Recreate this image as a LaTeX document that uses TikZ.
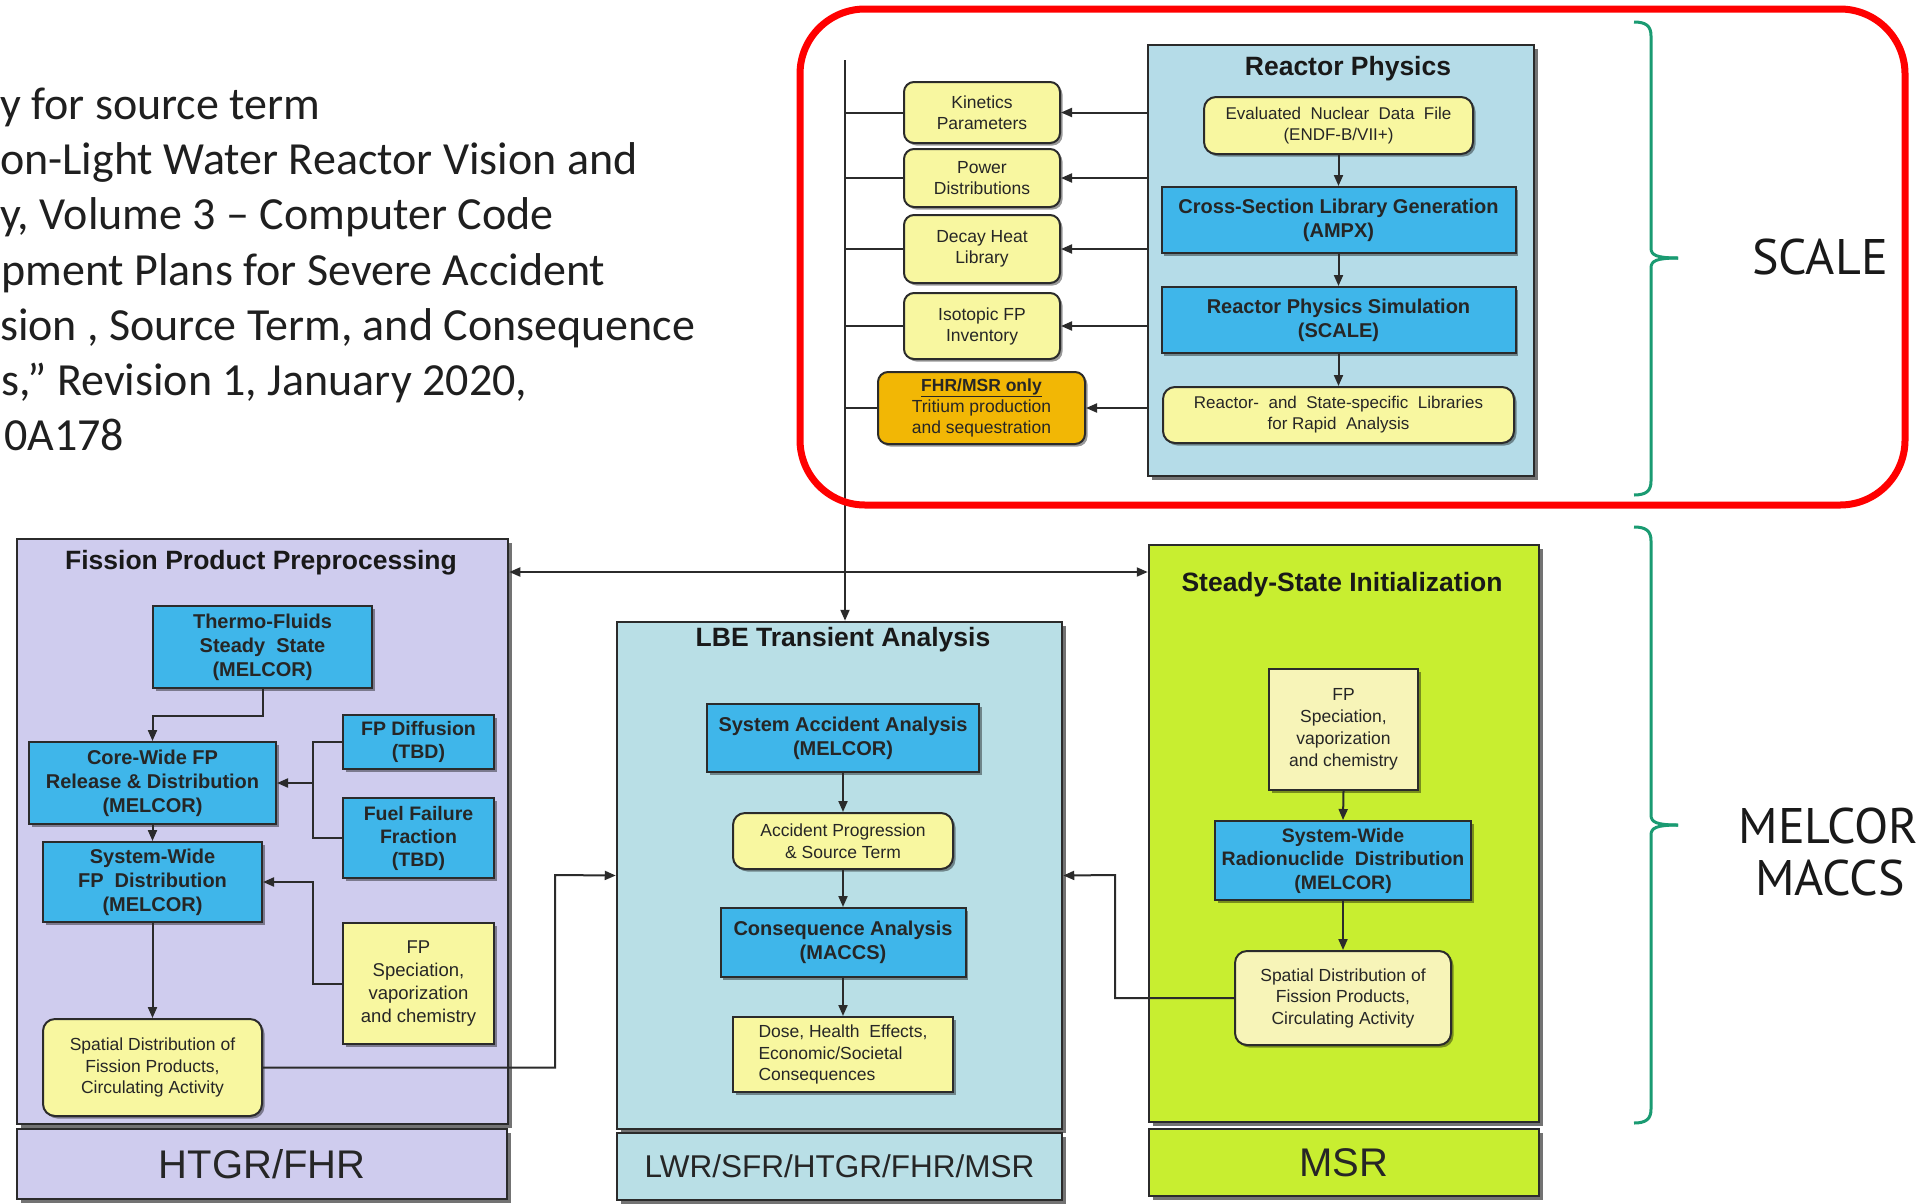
\documentclass[tikz,border=0pt]{standalone}
\usepackage{fontspec}
\setmainfont{Liberation Sans}
\newfontfamily\calibfont{Carlito}
\newfontfamily\ptfont{PT Sans}
\usetikzlibrary{arrows.meta,shadows}
\definecolor{lineC}{HTML}{2B2B2B}
\definecolor{txtC}{HTML}{262626}
\definecolor{blueF}{HTML}{3FB6EA}
\definecolor{yelF}{HTML}{F8F7A0}
\definecolor{yelL}{HTML}{F7F4B8}
\definecolor{orgF}{HTML}{F2B705}
\definecolor{lavF}{HTML}{CFCCEE}
\definecolor{cyanF}{HTML}{B9DFE6}
\definecolor{rpF}{HTML}{B5DCE8}
\definecolor{grnF}{HTML}{C8EE30}
\definecolor{braceC}{HTML}{1A9B72}
\definecolor{redC}{HTML}{FF0000}
\begin{document}
\begin{tikzpicture}[x=1pt,y=-1pt,
  >={Triangle[length=11pt,width=9pt]},
  conn/.style={draw=lineC, line width=2pt},
  cont/.style={draw=lineC, line width=2.5pt, drop shadow={shadow xshift=4pt, shadow yshift=-4pt, opacity=.55, fill=black}},
  ibox/.style={draw=lineC, line width=2pt, align=center, text=txtC, inner sep=2pt, drop shadow={shadow xshift=2.5pt, shadow yshift=-2.5pt, opacity=.4, fill=black}},
  bluebox/.style={ibox, fill=blueF, font=\bfseries\fontsize{20}{24}\selectfont},
  ybox/.style={ibox, fill=yelF, font=\fontsize{18.5}{23}\selectfont},
  yround/.style={ibox, fill=yelF, rounded corners=12pt, font=\fontsize{17.5}{21.5}\selectfont},
  rpsmall/.style={yround, minimum width=156, rounded corners=10pt, font=\fontsize{17.5}{21}\selectfont},
  ctitle/.style={font=\bfseries\fontsize{26.5}{30}\selectfont, text=black!90},
  lbl/.style={cont, font=\fontsize{40}{44}\selectfont, text=black!85},
  sidetxt/.style={font=\ptfont\fontsize{50}{53}\selectfont, text=black!90, anchor=base, inner sep=0pt},
  leadtxt/.style={font=\calibfont\fontsize{46}{55}\selectfont, text=black!88, anchor=base west, inner sep=0pt},
  brc/.style={draw=braceC, line width=3pt}
]
\useasboundingbox (0,0) rectangle (1921,1203);
\fill[white] (0,0) rectangle (1921,1203);
\node[leadtxt] (t1) at (0,119) {y for source term};
\node[leadtxt] (t2) at (0,174) {on-Light Water Reactor Vision and};
\node[leadtxt] (t3) at (0,229) {y, Volume 3 – Computer Code};
\node[leadtxt] (t4) at (1,285) {pment Plans for Severe Accident};
\node[leadtxt] (t5) at (0,340) {sion , Source Term, and Consequence};
\node[leadtxt] (t6) at (1,395) {s,” Revision 1, January 2020,};
\node[leadtxt] (t7) at (4,450) {0A178};

% ---------- Reactor Physics ----------
\node[cont, fill=rpF, minimum width=386, minimum height=431] (rp) at (1341,260.5) {};
\node[ctitle] (rpt) at (1348,69) {Reactor Physics};
\node[yround, font=\fontsize{17}{21}\selectfont, minimum width=269, minimum height=57] (endf) at (1338.5,125.5) {Evaluated~ Nuclear~ Data~ File\\(ENDF-B/VII+)};
\node[bluebox, minimum width=354, minimum height=66] (xs) at (1338.5,220) {Cross-Section Library Generation\\(AMPX)};
\node[bluebox, minimum width=354, minimum height=66] (rps) at (1338.5,320) {Reactor Physics Simulation\\(SCALE)};
\node[yround, font=\fontsize{17}{21}\selectfont, minimum width=351, minimum height=56] (rsl) at (1338.5,415) {Reactor-~ and~ State-specific~ Libraries\\for Rapid~ Analysis};
\draw[conn,->] (endf.south) -- (xs.north);
\draw[conn,->] (xs.south) -- (rps.north);
\draw[conn,->] (rps.south) -- (rsl.north);

\node[rpsmall, minimum height=61] (kin) at (982,112.5) {Kinetics\\Parameters};
\node[rpsmall, minimum height=58] (pow) at (982,178) {Power\\Distributions};
\node[rpsmall, minimum height=68] (dec) at (982,249) {Decay Heat\\Library};
\node[rpsmall, minimum height=66] (iso) at (982,326) {Isotopic FP\\Inventory};
\node[rpsmall, fill=orgF, minimum width=207, minimum height=72] (fhr) at (981.5,408) {\textbf{\underline{FHR/MSR only}}\\Tritium production\\and sequestration};

\coordinate (vtop) at (845,60);
\foreach \n in {kin,pow,dec,iso,fhr}{
  \draw[conn,->] (rp.west |- \n.east) -- (\n.east);
  \draw[conn] (vtop |- \n.west) -- (\n.west);
}

% ---------- containers ----------
\node[cont, fill=lavF, minimum width=491, minimum height=585] (fpp) at (262.5,831.5) {};
\node[lbl, fill=lavF, minimum width=490, minimum height=70] (fppl) at (262,1164) {HTGR/FHR};
\node[cont, fill=cyanF, minimum width=445, minimum height=507] (lbe) at (839.5,875.5) {};
\node[lbl, fill=cyanF, minimum width=445, minimum height=67, font=\fontsize{31.5}{36}\selectfont] (lbel) at (839.5,1166.5) {LWR/SFR/HTGR/FHR/MSR};
\node[cont, fill=grnF, minimum width=390, minimum height=577] (ssi) at (1344,833.5) {};
\node[lbl, fill=grnF, minimum width=390, minimum height=67] (ssil) at (1344,1162.5) {MSR};

\node[ctitle] (fppt) at (261,563) {Fission Product Preprocessing};
\node[ctitle] (lbet) at (843,640) {LBE Transient Analysis};
\node[ctitle] (ssit) at (1342,585) {Steady-State Initialization};

% ---------- FPP inner ----------
\node[bluebox, minimum width=219, minimum height=82] (thermo) at (262.5,647) {Thermo-Fluids\\Steady~ State\\(MELCOR)};
\node[bluebox, minimum width=247, minimum height=82] (core) at (152.5,783) {Core-Wide FP\\Release \& Distribution\\(MELCOR)};
\node[bluebox, minimum width=219, minimum height=80] (sysw) at (152.5,882) {System-Wide\\FP~ Distribution\\(MELCOR)};
\node[bluebox, font=\bfseries\fontsize{19.5}{23}\selectfont, minimum width=151, minimum height=54] (fpd) at (418.5,742) {FP Diffusion\\(TBD)};
\node[bluebox, font=\bfseries\fontsize{19.5}{23}\selectfont, minimum width=151, minimum height=80] (fff) at (418.5,838) {Fuel Failure\\Fraction\\(TBD)};
\node[ybox, minimum width=151, minimum height=121] (fps) at (418.5,983.5) {FP\\Speciation,\\vaporization\\and chemistry};
\node[yround, minimum width=219, minimum height=97] (spd) at (152.5,1067.5) {Spatial Distribution of\\Fission Products,\\Circulating Activity};

\draw[conn,->] (thermo.south) -- ++(0,27) -| (core.north);
\draw[conn,->] (core.south) -- (sysw.north);
\coordinate (j1) at (313,783);
\coordinate (j2) at (313,882);
\draw[conn] (fpd.west) -| (j1);
\draw[conn] (fff.west) -| (j1);
\draw[conn,->] (j1) -- (core.east);
\draw[conn,->] (fps.west) -| (j2) -- (sysw.east);
\draw[conn,->] (sysw.south) -- (spd.north);
\coordinate (j3) at (555,875);
\draw[conn,->] (spd.east) -| (j3) -- (lbe.west);

% ---------- LBE inner ----------
\node[bluebox, minimum width=272, minimum height=68] (sysacc) at (843,738) {System Accident Analysis\\(MELCOR)};
\node[yround, minimum width=220, minimum height=56] (accp) at (843,841) {Accident Progression\\\& Source Term};
\node[bluebox, minimum width=245, minimum height=69] (cons) at (843,942.5) {Consequence Analysis\\(MACCS)};
\node[ybox, align=left, font=\fontsize{17.5}{21.5}\selectfont, minimum width=220, minimum height=75] (dose) at (843,1054.5) {Dose, Health~ Effects,\\Economic/Societal\\Consequences};
\draw[conn,->] (sysacc.south) -- (accp.north);
\draw[conn,->] (accp.south) -- (cons.north);
\draw[conn,->] (cons.south) -- (dose.north);

% ---------- SSI inner ----------
\node[ybox, fill=yelL, font=\fontsize{17.5}{22}\selectfont, minimum width=149, minimum height=121] (fps2) at (1343.5,729.5) {FP\\Speciation,\\vaporization\\and chemistry};
\node[bluebox, font=\bfseries\fontsize{19.5}{23.5}\selectfont, minimum width=256, minimum height=79] (sysw2) at (1343,860.5) {System-Wide\\Radionuclide~ Distribution\\(MELCOR)};
\node[yround, fill=yelL, minimum width=216, minimum height=94] (spd2) at (1343,998) {Spatial Distribution of\\Fission Products,\\Circulating Activity};
\draw[conn,->] (fps2.south) -- (sysw2.north);
\draw[conn,->] (sysw2.south) -- (spd2.north);
\coordinate (j4) at (1115,875);
\draw[conn,->] (spd2.west) -| (j4) -- (lbe.east);

% ---------- main links ----------
\coordinate (hy) at (845,572);
\draw[conn,<->] (fpp.east |- hy) -- (ssi.west |- hy);
\draw[conn,->] (vtop) -- (vtop |- lbe.north);

% ---------- braces and side labels ----------
\draw[brc] (1634,22) .. controls (1646,22) and (1651,26) .. (1651,36) -- (1651,248) .. controls (1651,255) and (1656,258) .. (1678,258);
\draw[brc] (1678,258) .. controls (1656,258) and (1651,261) .. (1651,268) -- (1651,481) .. controls (1651,491) and (1646,495) .. (1634,495);
\draw[brc] (1634,527) .. controls (1646,527) and (1651,531) .. (1651,541) -- (1651,815) .. controls (1651,822) and (1656,825) .. (1678,825);
\draw[brc] (1678,825) .. controls (1656,825) and (1651,828) .. (1651,835) -- (1651,1109) .. controls (1651,1119) and (1646,1123) .. (1634,1123);
\node[sidetxt] (scale) at (1820,274) {SCALE};
\node[sidetxt] (melcor) at (1828.5,843) {MELCOR};
\node[sidetxt] (maccs) at (1830,895) {MACCS};

% ---------- red frame ----------
\draw[draw=redC, line width=7pt, rounded corners=65pt] (800,9) rectangle (1905,505);
\end{tikzpicture}
\end{document}
